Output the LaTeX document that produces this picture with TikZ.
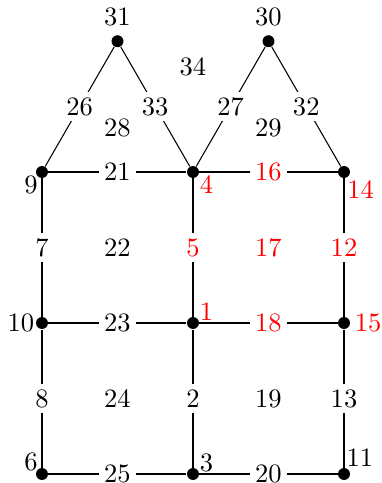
\documentclass[tikz,border=0pt]{standalone}
\begin{document}
\begin{tikzpicture}[
  vtx/.style={circle,fill=black,inner sep=0pt,minimum size=4.5pt},
  elab/.style={fill=white,inner sep=2pt},
  vlab/.style={inner sep=0pt},
  hot/.style={text=red},
  sq/.style={semithick},
  roof/.style={thin},
]
\useasboundingbox (-0.556,-0.119) rectangle (4.503,6.278);

% ---- Vertices
\node[vtx] (v6)  at (0,0) {};
\node[vtx] (v3)  at (2,0) {};
\node[vtx] (v11) at (4,0) {};
\node[vtx] (v10) at (0,2) {};
\node[vtx] (v1)  at (2,2) {};
\node[vtx] (v15) at (4,2) {};
\node[vtx] (v9)  at (0,4) {};
\node[vtx] (v4)  at (2,4) {};
\node[vtx] (v14) at (4,4) {};
\node[vtx] (v31) at (1,5.732) {};
\node[vtx] (v30) at (3,5.732) {};

% ---- Grid edges
\draw[sq] (v9)  -- node[elab] {21} (v4);
\draw[sq] (v4)  -- node[elab,hot] {16} (v14);
\draw[sq] (v10) -- node[elab] {23} (v1);
\draw[sq] (v1)  -- node[elab,hot] {18} (v15);
\draw[sq] (v6)  -- node[elab] {25} (v3);
\draw[sq] (v3)  -- node[elab] {20} (v11);
\draw[sq] (v9)  -- node[elab] {7} (v10);
\draw[sq] (v10) -- node[elab] {8} (v6);
\draw[sq] (v4)  -- node[elab,hot] {5} (v1);
\draw[sq] (v1)  -- node[elab] {2} (v3);
\draw[sq] (v14) -- node[elab,hot] {12} (v15);
\draw[sq] (v15) -- node[elab] {13} (v11);

% ---- Roof edges
\draw[roof] (v9)  -- node[elab] {26} (v31);
\draw[roof] (v31) -- node[elab] {33} (v4);
\draw[roof] (v4)  -- node[elab] {27} (v30);
\draw[roof] (v30) -- node[elab] {32} (v14);

% ---- Vertex labels
\node[vlab] (t31) at (1,6.05) {31};
\node[vlab] (t30) at (3,6.05) {30};
\node[vlab] (t9)  at (-0.146,3.83) {9};
\node[vlab,hot] (t4)  at (2.18,3.83) {4};
\node[vlab,hot] (t14) at (4.22,3.77) {14};
\node[vlab] (t10) at (-0.28,2.0) {10};
\node[vlab,hot] (t1)  at (2.18,2.15) {1};
\node[vlab,hot] (t15) at (4.32,2.0) {15};
\node[vlab] (t6)  at (-0.146,0.16) {6};
\node[vlab] (t3)  at (2.18,0.15) {3};
\node[vlab] (t11) at (4.21,0.21) {11};

% ---- Face labels
\node (f34) at (2,5.39) {34};
\node (f28) at (1,4.58) {28};
\node (f29) at (3,4.58) {29};
\node (f22) at (1,3) {22};
\node[hot] (f17) at (3,3) {17};
\node (f24) at (1,1) {24};
\node (f19) at (3,1) {19};

\end{tikzpicture}
\end{document}
